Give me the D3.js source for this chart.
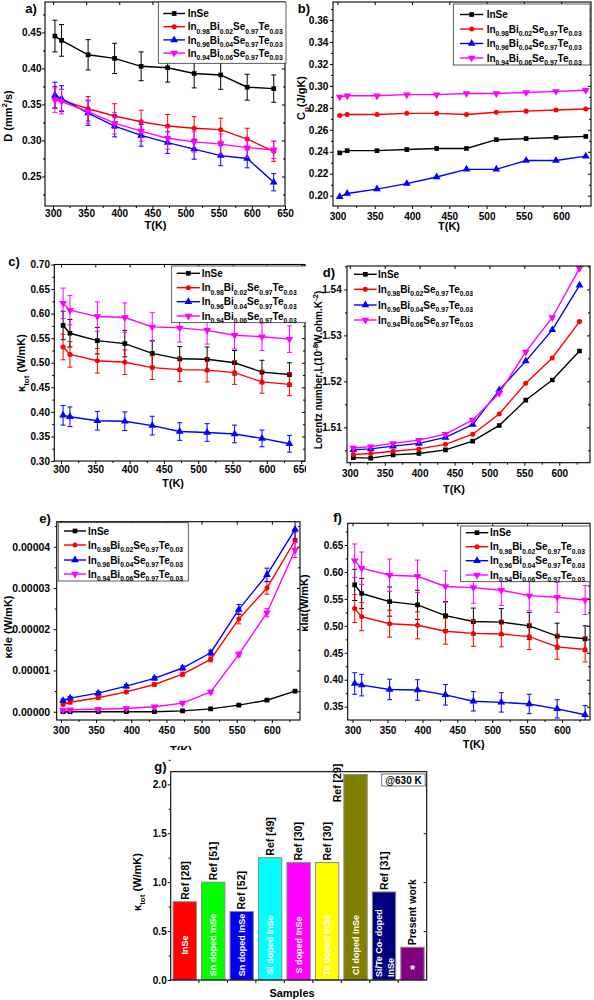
<!DOCTYPE html>
<html><head><meta charset="utf-8">
<script src="https://cdn.jsdelivr.net/npm/d3@7"></script>
<style>
body{margin:0;background:#fff}
svg{display:block}
text{font-family:"Liberation Sans",Arial,sans-serif;font-weight:bold;fill:#000}
</style>
</head><body>
<svg id="chart" width="594" height="1000"></svg>
<script>
// ---------------- DATA ----------------
const temps = [303,313,353,393,433,473,513,553,593,633];
const tempsLorenz = [305,330,362,399,437,476,514,552,590,629];
const seriesLabels = ["InSe","In_{0.98}Bi_{0.02}Se_{0.97}Te_{0.03}","In_{0.96}Bi_{0.04}Se_{0.97}Te_{0.03}","In_{0.94}Bi_{0.06}Se_{0.97}Te_{0.03}"];
const seriesColors = ["#000000","#ff0000","#0000ff","#ff00ff"];

// a) thermal diffusivity D (mm2/s)
const diffInSe  = [0.445,0.439,0.419,0.414,0.403,0.401,0.393,0.391,0.374,0.372];
const diffBi02  = [0.360,0.356,0.344,0.334,0.326,0.320,0.317,0.315,0.302,0.285];
const diffBi04  = [0.363,0.358,0.338,0.320,0.307,0.297,0.288,0.279,0.275,0.242];
const diffBi06  = [0.356,0.354,0.340,0.324,0.313,0.303,0.298,0.295,0.290,0.287];
const diffErrInSe = [0.022,0.022,0.021,0.021,0.020,0.020,0.020,0.020,0.018,0.019];
const diffErrBi02 = [0.015,0.015,0.017,0.017,0.016,0.016,0.016,0.016,0.015,0.014];
const diffErrBi04 = [0.018,0.018,0.017,0.015,0.015,0.015,0.014,0.014,0.013,0.012];
const diffErrBi06 = [0.017,0.017,0.016,0.015,0.014,0.015,0.014,0.014,0.013,0.012];

// b) specific heat Cp (J/gK)
const cpInSe = [0.239,0.241,0.241,0.242,0.243,0.243,0.251,0.252,0.253,0.254];
const cpBi02 = [0.273,0.274,0.274,0.275,0.275,0.274,0.276,0.277,0.278,0.279];
const cpBi04 = [0.199,0.202,0.206,0.211,0.217,0.224,0.224,0.232,0.232,0.236];
const cpBi06 = [0.290,0.291,0.291,0.292,0.292,0.293,0.293,0.294,0.295,0.296];

// c) total thermal conductivity (W/mK)
const kTotInSe = [0.576,0.560,0.545,0.539,0.519,0.508,0.507,0.500,0.481,0.476];
const kTotBi02 = [0.532,0.517,0.504,0.501,0.490,0.486,0.485,0.480,0.461,0.456];
const kTotBi04 = [0.393,0.390,0.382,0.381,0.372,0.360,0.358,0.355,0.346,0.335];
const kTotBi06 = [0.621,0.607,0.594,0.592,0.573,0.571,0.566,0.556,0.553,0.548];
const kErrInSe = [0.029,0.028,0.027,0.027,0.026,0.025,0.025,0.025,0.024,0.024];
const kErrBi02 = [0.026,0.026,0.025,0.025,0.024,0.024,0.024,0.024,0.023,0.023];
const kErrBi04 = [0.020,0.020,0.019,0.019,0.019,0.018,0.018,0.018,0.017,0.017];
const kErrBi06 = [0.031,0.030,0.030,0.030,0.029,0.029,0.028,0.028,0.028,0.027];

// d) Lorenz number (1e-8 W ohm K^-2)
const lorInSe = [1.5034,1.5033,1.5040,1.5043,1.5051,1.5070,1.5104,1.5159,1.5203,1.5266];
const lorBi02 = [1.5041,1.5043,1.5048,1.5053,1.5063,1.5085,1.5129,1.5196,1.5251,1.5330];
const lorBi04 = [1.5051,1.5053,1.5059,1.5065,1.5078,1.5106,1.5181,1.5244,1.5312,1.5409];
const lorBi06 = [1.5055,1.5058,1.5065,1.5072,1.5085,1.5116,1.5174,1.5264,1.5339,1.5446];

// e) electronic thermal conductivity (W/mK)
const kEleInSe = [0.000000,0.000000,0.000000,0.000000,0.000000,0.0000002,0.0000007,0.0000016,0.0000028,0.0000050];
const kEleBi02 = [0.0000018,0.0000023,0.0000034,0.0000048,0.0000066,0.0000091,0.0000127,0.0000225,0.0000300,0.0000415];
const kEleBi04 = [0.0000027,0.0000033,0.0000045,0.0000062,0.0000081,0.0000106,0.0000143,0.0000248,0.0000332,0.0000442];
const kEleBi06 = [0.0000004,0.0000005,0.0000006,0.0000008,0.0000012,0.0000021,0.0000048,0.0000139,0.0000240,0.0000392];
const kEleErrInSe = [0.0000002,0.0000002,0.0000002,0.0000002,0.0000002,0.0000002,0.0000002,0.0000002,0.0000002,0.0000002];
const kEleErrBi02 = [0.0000004,0.0000004,0.0000004,0.0000004,0.0000004,0.0000005,0.0000006,0.0000012,0.0000015,0.0000020];
const kEleErrBi04 = [0.0000004,0.0000004,0.0000004,0.0000004,0.0000004,0.0000005,0.0000006,0.0000012,0.0000016,0.0000022];
const kEleErrBi06 = [0.0000003,0.0000003,0.0000003,0.0000003,0.0000003,0.0000003,0.0000004,0.0000006,0.0000010,0.0000018];

// f) lattice thermal conductivity (W/mK)
const kLatInSe = [0.576,0.560,0.545,0.539,0.519,0.508,0.507,0.500,0.481,0.476];
const kLatBi02 = [0.532,0.517,0.504,0.501,0.490,0.486,0.485,0.480,0.461,0.456];
const kLatBi04 = [0.393,0.390,0.382,0.381,0.372,0.360,0.358,0.355,0.346,0.335];
const kLatBi06 = [0.621,0.607,0.594,0.592,0.573,0.571,0.566,0.556,0.553,0.548];

// g) comparison @630 K
const sampleRefs = ["Ref [28]","Ref [51]","Ref [52]","Ref [49]","Ref [30]","Ref [30]","Ref [29]","Ref [31]","Present work"];
const sampleNames = ["InSe","Sn doped InSe","Sn doped InSe","Si doped InSe","S doped InSe","Te doped InSe","Cl doped InSe","Si/Te Co- doped|InSe","*"];
const sampleKtot = [0.80,1.00,0.70,1.25,1.20,1.20,2.10,0.90,0.335];
const sampleColors = ["#ff0000","#00ff00","#0000ee","#00ffff","#ff00ff","#ffff00","#808000","#000080","#800080"];

// ---------------- DRAW ----------------
const svg = d3.select("#chart");
const defs = svg.append("defs");

function rich(sel, str, size, subSize){
  const re = /(_|\^)\{([^}]*)\}|([^_^]+)/g;
  let m, cur = 0;
  while ((m = re.exec(str))){
    let target = 0, fs = size, txt;
    if (m[3] !== undefined){ txt = m[3]; }
    else { txt = m[2]; fs = subSize; target = m[1] === "_" ? size*0.32 : -size*0.42; }
    sel.append("tspan").attr("dy", (target-cur).toFixed(2)).attr("font-size", fs).text(txt);
    cur = target;
  }
}

const triDown = { draw(ctx, size){ const s = Math.sqrt(size/ (Math.sqrt(3)/4)); const h = s*Math.sqrt(3)/2;
  ctx.moveTo(-s/2, -h/3); ctx.lineTo(s/2, -h/3); ctx.lineTo(0, 2*h/3); ctx.closePath(); } };
const symbolTypes = [d3.symbolSquare, d3.symbolCircle, d3.symbolTriangle, triDown];
const symbolSizes = [22, 20, 26, 26];

function drawPanel(p){
  const root = svg.append("g");
  if (p.clip){
    defs.append("clipPath").attr("id","pc"+p.name).append("rect")
      .attr("x",p.clip[0]).attr("y",p.clip[1]).attr("width",p.clip[2]-p.clip[0]).attr("height",p.clip[3]-p.clip[1]);
    root.attr("clip-path","url(#pc"+p.name+")");
  }
  defs.append("clipPath").attr("id","dc"+p.name).append("rect")
    .attr("x",p.l).attr("y",p.t).attr("width",p.r-p.l).attr("height",p.b-p.t);

  const x = d3.scaleLinear().domain(p.xDomain).range([p.l,p.r]);
  const y = d3.scaleLinear().domain(p.yDomain).range([p.b,p.t]);
  const fs = p.fs || 10;

  const bx = root.append("g").attr("transform",`translate(0,${p.b})`)
    .call(d3.axisBottom(x).tickValues(p.xTicks).tickSize(3).tickFormat(d3.format("d")));
  bx.selectAll("text").attr("y", p.xLabBase - p.b).attr("dy",0).attr("font-size",fs).attr("font-family",null);
  root.append("g").attr("transform",`translate(0,${p.b})`)
    .call(d3.axisBottom(x).tickValues(p.xMinor).tickSize(2).tickFormat(""));
  root.append("g").attr("transform",`translate(0,${p.t})`)
    .call(d3.axisBottom(x).tickValues(p.xTicks).tickSize(3).tickFormat(""));
  const ly = root.append("g").attr("transform",`translate(${p.l},0)`)
    .call(d3.axisLeft(y).tickValues(p.yTicks).tickSize(3).tickPadding(p.yGap-3).tickFormat(d3.format(p.yFmt)));
  ly.selectAll("text").attr("font-size",p.yfs||fs).attr("font-family",null);
  root.append("g").attr("transform",`translate(${p.l},0)`)
    .call(d3.axisLeft(y).tickValues(p.yMinor).tickSize(2).tickFormat(""));
  root.append("g").attr("transform",`translate(${p.r},0)`)
    .call(d3.axisLeft(y).tickValues(p.yTicks).tickSize(3).tickFormat(""));
  root.append("g").attr("transform",`translate(${p.r},0)`)
    .call(d3.axisLeft(y).tickValues(p.yMinor).tickSize(2).tickFormat(""));
  root.selectAll(".domain").remove();
  root.selectAll(".tick line").attr("stroke","#000");

  const dg = root.append("g").attr("clip-path","url(#dc"+p.name+")");
  p.series.forEach((vals, i) => {
    const col = seriesColors[i];
    const pts = p.xs.map((t, j) => ({t, v: vals[j], e: p.errs ? p.errs[i][j] : 0}));
    if (p.errs){
      const eg = dg.append("g").attr("stroke", col).attr("stroke-width",1);
      pts.forEach(d => {
        const cx = x(d.t), y1 = y(d.v + d.e), y2 = y(d.v - d.e);
        eg.append("line").attr("x1",cx).attr("x2",cx).attr("y1",y1).attr("y2",y2);
        eg.append("line").attr("x1",cx-2.5).attr("x2",cx+2.5).attr("y1",y1).attr("y2",y1);
        eg.append("line").attr("x1",cx-2.5).attr("x2",cx+2.5).attr("y1",y2).attr("y2",y2);
      });
    }
    dg.append("path").datum(pts).attr("fill","none").attr("stroke",col).attr("stroke-width",1.4)
      .attr("d", d3.line().x(d => x(d.t)).y(d => y(d.v)));
    const sym = d3.symbol().type(symbolTypes[i]).size(symbolSizes[i]);
    dg.selectAll(null).data(pts).join("path").attr("d", sym).attr("fill", col)
      .attr("transform", d => `translate(${x(d.t)},${y(d.v)})`);
  });

  root.append("rect").attr("x",p.l).attr("y",p.t).attr("width",p.r-p.l).attr("height",p.b-p.t)
    .attr("fill","none").attr("stroke","#000").attr("stroke-width",1.1);

  const L = p.legend;
  if (L.box){
    root.append("rect").attr("x",L.box[0]).attr("y",L.box[1]).attr("width",L.box[2]-L.box[0]).attr("height",L.box[3]-L.box[1])
      .attr("fill","#fff").attr("stroke","#333").attr("stroke-width",0.8);
  }
  seriesLabels.forEach((lab, i) => {
    const yy = L.ys[i];
    root.append("line").attr("x1",L.lx[0]).attr("x2",L.lx[1]).attr("y1",yy).attr("y2",yy)
      .attr("stroke",seriesColors[i]).attr("stroke-width",1.4);
    root.append("path").attr("d", d3.symbol().type(symbolTypes[i]).size(symbolSizes[i])())
      .attr("fill",seriesColors[i]).attr("transform",`translate(${(L.lx[0]+L.lx[1])/2},${yy})`);
    const t = root.append("text").attr("x",L.tx).attr("y",yy+3.6);
    rich(t, lab, 10, 6.8);
  });

  root.append("text").attr("x",p.xTitle[0]).attr("y",p.xTitle[1]).attr("text-anchor","middle").attr("font-size",11).text("T(K)");
  const yt = root.append("text").attr("text-anchor","middle")
    .attr("transform",`translate(${p.yTitle[0]},${p.yTitle[1]}) rotate(-90)`).attr("dy","0.35em");
  rich(yt, p.yTitleText, p.yTitleSize || 11, 8);
  root.append("text").attr("x",p.tag[0]).attr("y",p.tag[1]).attr("text-anchor","middle")
    .attr("font-family","'Liberation Serif','Times New Roman',serif").attr("font-size",13).text(p.name+")");
}

const ticks = (a,b,s) => d3.range(Math.round((b-a)/s)+1).map(i => +(a+i*s).toFixed(8));

drawPanel({name:"a", l:45, r:285, t:2, b:206, xDomain:[288,650], yDomain:[0.209,0.4923],
  xTicks:ticks(300,650,50), xMinor:ticks(325,625,50), yTicks:ticks(0.25,0.45,0.05), yMinor:ticks(0.225,0.475,0.05),
  yFmt:".2f", yGap:3.5, xLabBase:216.5, xTitle:[155.5,229], yTitle:[12,116], yTitleText:"D (mm^{2}/s)", tag:[31,13],
  xs:temps, series:[diffInSe,diffBi02,diffBi04,diffBi06], errs:[diffErrInSe,diffErrBi02,diffErrBi04,diffErrBi06],
  legend:{box:[158.3,2,286,63.3], lx:[163.3,185], tx:187.7, ys:[13.5,26.7,39.9,53.1]}});

drawPanel({name:"b", l:333, r:591, t:2, b:206, xDomain:[294,640], yDomain:[0.1906,0.3764],
  xTicks:ticks(300,600,50), xMinor:ticks(325,625,50), yTicks:ticks(0.20,0.36,0.02), yMinor:ticks(0.21,0.37,0.02),
  yFmt:".2f", yGap:4.7, xLabBase:220, xTitle:[449,230], yTitle:[305,98], yTitleText:"C_{p}(J/gK)", tag:[304,13],
  xs:temps, series:[cpInSe,cpBi02,cpBi04,cpBi06], errs:null,
  legend:{box:[453.3,4,590,65], lx:[460,483.3], tx:486.7, ys:[14.5,29,43.5,58]}});

drawPanel({name:"c", l:54.3, r:305, t:264.5, b:461, xDomain:[290.2,655.7], yDomain:[0.30,0.70],
  clip:[0,235,306,500],
  xTicks:ticks(300,650,50), xMinor:ticks(325,625,50), yTicks:ticks(0.30,0.70,0.05), yMinor:ticks(0.325,0.675,0.05),
  yFmt:".2f", yGap:4.3, xLabBase:473, xTitle:[173,486.5], yTitle:[25,363], yTitleText:"κ_{tot} (W/mK)", tag:[14,266],
  xs:temps, series:[kTotInSe,kTotBi02,kTotBi04,kTotBi06], errs:[kErrInSe,kErrBi02,kErrBi04,kErrBi06],
  legend:{box:[171.7,266,340,322.7], lx:[176.7,200], tx:201.7, ys:[273.3,287.7,301.7,316]}});

drawPanel({name:"d", l:347, r:590, t:266, b:462.7, xDomain:[296,644], yDomain:[1.5023,1.5451],
  xTicks:ticks(300,600,50), xMinor:ticks(325,625,50), yTicks:ticks(1.51,1.54,0.01), yMinor:ticks(1.505,1.545,0.01),
  yFmt:".2f", yGap:5.3, xLabBase:477, xTitle:[454,493], yTitle:[321.7,370], yTitleText:"Lorentz number,L(10^{-8}W.ohm.K^{-2})", yTitleSize:10, tag:[329,277],
  xs:tempsLorenz, series:[lorInSe,lorBi02,lorBi04,lorBi06], errs:null,
  legend:{box:null, lx:[354,376.7], tx:378, ys:[274.3,289.3,305,320]}});

drawPanel({name:"e", l:56.7, r:300, t:521.7, b:720, xDomain:[294,640], yDomain:[-0.000002,0.00004606],
  clip:[0,495,302,750],
  xTicks:ticks(300,600,50), xMinor:ticks(325,625,50), yTicks:ticks(0,0.00004,0.00001), yMinor:ticks(0.000005,0.000045,0.00001),
  yFmt:".5f", yfs:10.5, yGap:6.5, xLabBase:734, xTitle:[181,754], yTitle:[11.7,627], yTitleText:"κele (W/mK)", tag:[45,523],
  xs:temps, series:[kEleInSe,kEleBi02,kEleBi04,kEleBi06], errs:[kEleErrInSe,kEleErrBi02,kEleErrBi04,kEleErrBi06],
  legend:{box:[58.3,522.7,188.3,581], lx:[64,86], tx:88, ys:[531,545,560,574]}});

drawPanel({name:"f", l:347.7, r:590, t:523.3, b:720, xDomain:[293,640], yDomain:[0.3253,0.6903],
  xTicks:ticks(300,600,50), xMinor:ticks(325,625,50), yTicks:ticks(0.35,0.65,0.05), yMinor:ticks(0.375,0.675,0.05),
  yFmt:".2f", yGap:4.4, xLabBase:734, xTitle:[473.7,748], yTitle:[308,603], yTitleText:"κlat(W/mK)", tag:[337.5,522],
  xs:temps, series:[kLatInSe,kLatBi02,kLatBi04,kLatBi06], errs:[kErrInSe,kErrBi02,kErrBi04,kErrBi06],
  legend:{box:[460.7,526,590,581.7], lx:[465.7,488.3], tx:490, ys:[532.7,546.7,560.7,575]}});

// ---- panel g ----
(function(){
  const g = svg.append("g");
  const L = 170.7, R = 426.7, T = 771.7, B = 980;
  const xb = d3.scaleBand().domain(d3.range(sampleKtot.length)).range([170.5, 426.7]).paddingInner(0.18).paddingOuter(0.09);
  const y = d3.scaleLinear().domain([0, 2.129]).range([B, T]);

  g.append("g").attr("transform",`translate(${L},0)`)
    .call(d3.axisLeft(y).tickValues(ticks(0,2,0.5)).tickSize(3).tickPadding(1).tickFormat(d3.format(".1f")))
    .selectAll("text").attr("font-size",10).attr("font-family",null);
  g.append("g").attr("transform",`translate(${L},0)`)
    .call(d3.axisLeft(y).tickValues(ticks(0.25,2.0,0.5)).tickSize(2).tickFormat(""));
  g.append("g").attr("transform",`translate(${R},0)`)
    .call(d3.axisLeft(y).tickValues(ticks(0.5,2,0.5)).tickSize(3).tickFormat(""));
  const bounds = d3.range(1, sampleKtot.length).map(i => xb(i) - xb.step()*xb.paddingInner()/2);
  g.append("g").attr("stroke","#000").selectAll("line").data(bounds).join("line")
    .attr("x1",d=>d).attr("x2",d=>d).attr("y1",B).attr("y2",B+3);
  g.selectAll(".domain").remove();

  g.selectAll("rect.bar").data(sampleKtot).join("rect").attr("class","bar")
    .attr("x",(d,i)=>xb(i)).attr("width",xb.bandwidth()).attr("y",d=>y(d)).attr("height",d=>B-y(d))
    .attr("fill",(d,i)=>sampleColors[i]).attr("stroke","#8a8a8a").attr("stroke-width",1);

  sampleKtot.forEach((v,i) => {
    const cx = xb(i) + xb.bandwidth()/2;
    const refFits = y(v) - 2 - 45 > T - 8;
    if (refFits){
      g.append("text").attr("transform",`translate(${cx},${y(v)-2}) rotate(-90)`).attr("dy","0.36em")
        .attr("font-size",10.5).text(sampleRefs[i]);
    } else {
      // tall bar: label sits beside the bar, to its left
      g.append("text").attr("transform",`translate(${xb(i)-6.5},${T-8}) rotate(-90)`).attr("dy","0.36em")
        .attr("text-anchor","end").attr("font-size",10.5).text(sampleRefs[i]);
    }
    const lines = sampleNames[i].split("|");
    if (sampleNames[i] === "*"){
      g.append("text").attr("x",cx).attr("y",974).attr("text-anchor","middle").attr("font-size",13)
        .style("fill","#fff").text("*");
    } else if (lines.length === 1){
      g.append("text").attr("transform",`translate(${cx},945) rotate(-90)`).attr("dy","0.35em")
        .attr("text-anchor","middle").attr("font-size",9).style("fill","#fff").text(lines[0]);
    } else {
      lines.forEach((ln,k) => {
        g.append("text").attr("transform",`translate(${cx + (k===0?-5:7)},977) rotate(-90)`).attr("dy","0.35em")
          .attr("font-size",9).style("fill","#fff").text(ln);
      });
    }
  });

  g.append("rect").attr("x",L).attr("y",T).attr("width",R-L).attr("height",B-T)
    .attr("fill","none").attr("stroke","#000").attr("stroke-width",1.1);
  g.append("rect").attr("x",381.7).attr("y",774).attr("width",43.5).attr("height",12)
    .attr("fill","#fff").attr("stroke","#777").attr("stroke-width",1);
  g.append("text").attr("x",403.5).attr("y",783.8).attr("text-anchor","middle").attr("font-size",10).text("@630 K");
  g.append("text").attr("x",292).attr("y",997).attr("text-anchor","middle").attr("font-size",11).text("Samples");
  const yt = g.append("text").attr("text-anchor","middle").attr("transform","translate(141,882) rotate(-90)").attr("dy","0.35em");
  rich(yt, "κ_{tot} (W/mK)", 11, 8);
  g.append("text").attr("x",160.5).attr("y",771).attr("text-anchor","middle")
    .attr("font-family","'Liberation Serif','Times New Roman',serif").attr("font-size",13).text("g)");
})();
</script>
</body></html>
